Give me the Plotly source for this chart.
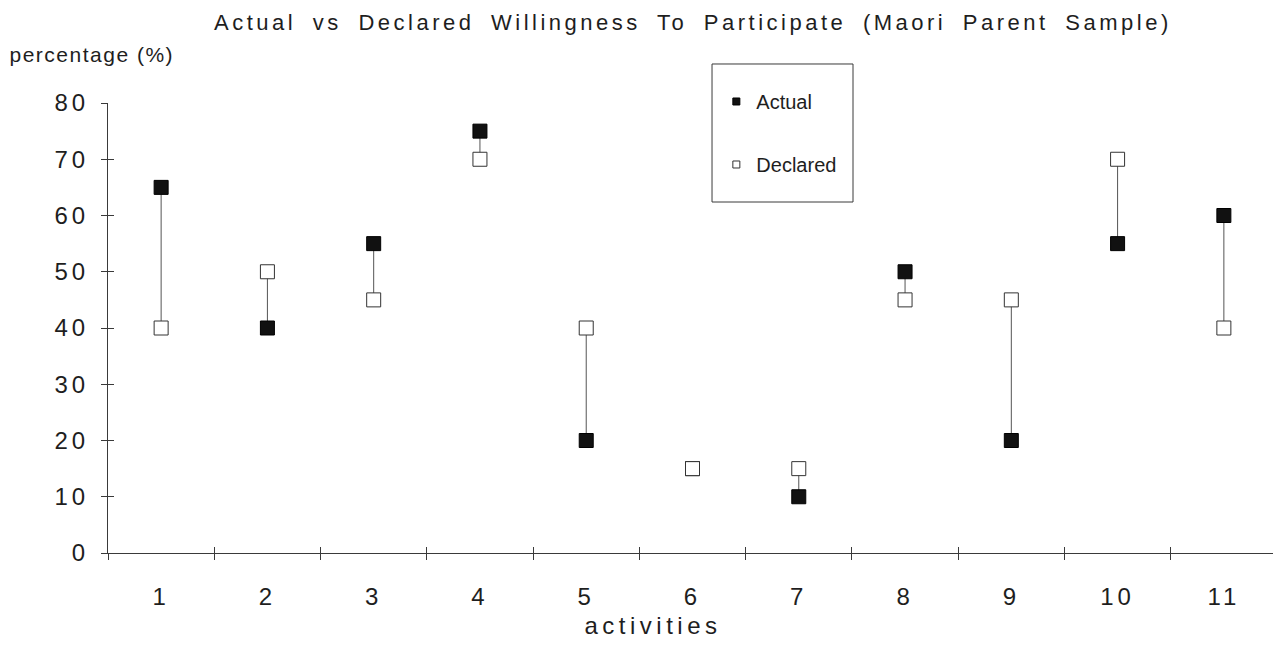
import plotly.graph_objects as go

activities = ["1", "2", "3", "4", "5", "6", "7", "8", "9", "10", "11"]
actual = [65, 40, 55, 75, 20, 15, 10, 50, 20, 55, 60]
declared = [40, 50, 45, 70, 40, 15, 15, 45, 45, 70, 40]
y_ticks = [0, 10, 20, 30, 40, 50, 60, 70, 80]

FONT = "Liberation Sans, Arial, sans-serif"
INK = "#1e1e1e"
AXIS = "#3a3a3a"

seg_x, seg_y = [], []
for a, v1, v2 in zip(activities, actual, declared):
    seg_x += [a, a, None]
    seg_y += [v1, v2, None]

boundaries = [i + 0.5 for i in range(len(activities) + 1)]

fig = go.Figure()
fig.add_trace(go.Scatter(x=seg_x, y=seg_y, mode="lines",
                         line=dict(color="#555555", width=1),
                         showlegend=False, hoverinfo="skip"))
fig.add_trace(go.Scatter(x=activities, y=actual, mode="markers", showlegend=False,
                         marker=dict(symbol="square", size=14, color="#111111",
                                     line=dict(color="#000000", width=1))))
fig.add_trace(go.Scatter(x=activities, y=declared, mode="markers", showlegend=False,
                         marker=dict(symbol="square", size=14, color="#ffffff",
                                     line=dict(color="#333333", width=1))))
# legend entries
fig.add_trace(go.Scatter(x=[None], y=[None], mode="markers", name="Actual",
                         legendgroup="a",
                         marker=dict(symbol="square", size=7, color="#111111",
                                     line=dict(color="#000000", width=1))))
fig.add_trace(go.Scatter(x=[None], y=[None], mode="markers", name="Declared",
                         legendgroup="d",
                         marker=dict(symbol="square", size=7, color="#ffffff",
                                     line=dict(color="#333333", width=1))))
# invisible trace for overlay axes (crossing ticks)
fig.add_trace(go.Scatter(x=[None], y=[None], xaxis="x2", yaxis="y2",
                         showlegend=False, hoverinfo="skip"))

title_text = "Actual vs Declared Willingness To Participate (Maori Parent Sample)"

fig.update_layout(
    width=1273, height=637,
    paper_bgcolor="white", plot_bgcolor="white",
    margin=dict(l=100, r=4, t=95, b=92),
    font=dict(family=FONT, color=INK),
    title=dict(text=title_text, x=0.538, xanchor="center", y=0.978, yanchor="middle",
               font=dict(size=22, family=FONT, color=INK)),
    xaxis=dict(type="category", range=[-0.5, len(activities) - 0.5],
               tickson="boundaries", ticks="outside", ticklen=6,
               tickcolor=AXIS, showline=True, linecolor=AXIS, linewidth=1,
               showgrid=False, zeroline=False, ticklabelstandoff=22,
               tickfont=dict(size=24, family=FONT, color=INK)),
    yaxis=dict(range=[0, 80], tickvals=y_ticks, ticks="outside", ticklen=6,
               tickcolor=AXIS, showline=True, linecolor=AXIS, linewidth=1,
               showgrid=False, zeroline=False, ticklabelstandoff=7,
               tickfont=dict(size=24, family=FONT, color=INK)),
    xaxis2=dict(overlaying="x", anchor="y", range=[0.5, len(activities) + 0.5],
                tickvals=boundaries, ticks="inside", ticklen=6, tickcolor=AXIS,
                showticklabels=False, showline=False, showgrid=False, zeroline=False),
    yaxis2=dict(overlaying="y", anchor="x", range=[0, 80], tickvals=y_ticks,
                ticks="inside", ticklen=6, tickcolor=AXIS,
                showticklabels=False, showline=False, showgrid=False, zeroline=False),
    legend=dict(x=0.5204, y=1.0467, xanchor="left", yanchor="top",
                borderwidth=0, bgcolor="rgba(0,0,0,0)",
                font=dict(size=20, family=FONT, color=INK),
                tracegroupgap=34, traceorder="grouped"),
    shapes=[dict(type="rect", xref="paper", yref="paper",
                 x0=0.5167, x1=0.6373, y0=0.78, y1=1.0867,
                 line=dict(color=AXIS, width=1), fillcolor="rgba(0,0,0,0)")],
    annotations=[
        dict(text="percentage (%)", xref="paper", yref="paper",
             x=-0.0766, y=1.108, xanchor="left", yanchor="middle",
             showarrow=False, font=dict(size=21, family=FONT, color=INK)),
        dict(text="activities", xref="paper", yref="paper",
             x=0.4662, y=-0.160, xanchor="center", yanchor="middle",
             showarrow=False, font=dict(size=24, family=FONT, color=INK)),
    ],
)

post = """
var gd = document.getElementById('{plot_id}');
function spacing(){
  gd.querySelectorAll('.xtick text, .ytick text').forEach(function(t){t.style.letterSpacing='4px';});
  gd.querySelectorAll('.gtitle').forEach(function(t){t.style.letterSpacing='3.5px'; t.style.wordSpacing='7px';});
  var ann = gd.querySelectorAll('.annotation-text');
  if (ann.length > 0) ann[0].style.letterSpacing='1.5px';
  if (ann.length > 1) ann[1].style.letterSpacing='4.5px';
}
spacing();
gd.on('plotly_afterplot', spacing);
"""

fig.write_html("out.html", post_script=post)
